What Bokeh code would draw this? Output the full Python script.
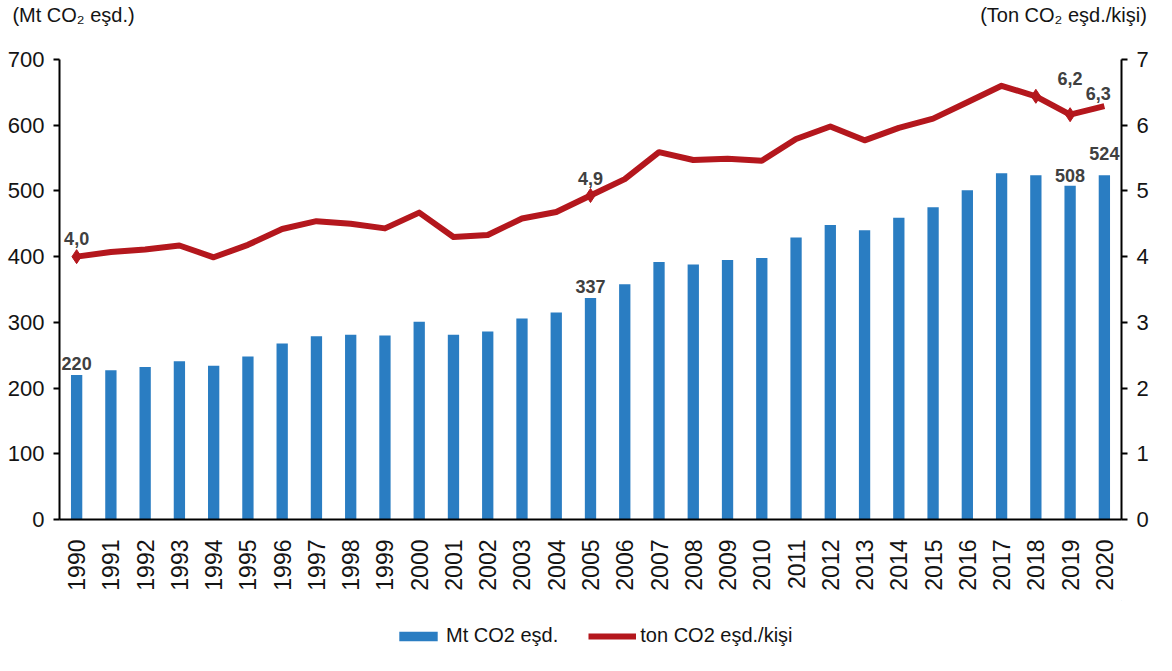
from bokeh.plotting import figure
from bokeh.layouts import column
from bokeh.models import (FactorRange, Range1d, LinearAxis, Legend, LegendItem,
                          Label, ColumnDataSource, FixedTicker)
from bokeh.embed import file_html
from bokeh.resources import INLINE

years = [str(y) for y in range(1990, 2021)]
emissions_mt = [220, 227, 232, 241, 234, 248, 268, 279, 281, 280, 301, 281, 286, 306,
                315, 337, 358, 392, 388, 395, 398, 429, 448, 440, 459, 475, 501, 527,
                524, 508, 524]
per_capita_t = [4.00, 4.07, 4.11, 4.17, 3.99, 4.18, 4.42, 4.54, 4.50, 4.43, 4.67, 4.30,
                4.33, 4.58, 4.68, 4.93, 5.18, 5.59, 5.47, 5.49, 5.46, 5.79, 5.98, 5.77,
                5.96, 6.10, 6.35, 6.60, 6.44, 6.16, 6.29]
bar_label_years = ["1990", "2005", "2019", "2020"]
bar_label_texts = ["220", "337", "508", "524"]
line_label_years = ["1990", "2005", "2019", "2020"]
line_label_texts = ["4,0", "4,9", "6,2", "6,3"]
marker_years = ["1990", "2005", "2018", "2019"]
left_ticks = [0, 100, 200, 300, 400, 500, 600, 700]
right_ticks = [0, 1, 2, 3, 4, 5, 6, 7]
left_unit = "(Mt CO\u2082 e\u015fd.)"
right_unit = "(Ton CO\u2082 e\u015fd./ki\u015fi)"
bar_name = "Mt CO2 e\u015fd."
line_name = "ton CO2 e\u015fd./ki\u015fi"

FONT = "Liberation Sans"
BLUE = "#2A7DC2"
RED = "#B4171D"
LABEL_C = "#404040"
TXT = "#141414"

W = 1156
HEAD_H, MAIN_H, FOOT_H = 44, 556, 55
BL, BR, BT, BB = 59, 35, 15, 81
FW = W - BL - BR

# ---------------- header: unit captions as labels of a bare top axis ----------------
head = figure(width=W, height=HEAD_H, x_range=Range1d(0, FW), y_range=Range1d(0, 1),
              x_axis_location="above", y_axis_type=None, output_backend="svg",
              toolbar_location=None, min_border_left=BL, min_border_right=BR,
              min_border_top=4, min_border_bottom=0, outline_line_color=None)
head.xgrid.visible = False
hx = head.xaxis[0]
hx.ticker = FixedTicker(ticks=[14, 1004])
hx.major_label_overrides = {14: left_unit, 1004: right_unit}
hx.axis_line_color = None
hx.major_tick_line_color = None
hx.minor_tick_line_color = None
hx.major_tick_out = 0
hx.major_tick_in = 0
hx.major_label_standoff = 0
hx.major_label_text_font = FONT
hx.major_label_text_font_size = "20px"
hx.major_label_text_color = TXT

# ---------------- main chart ----------------
p = figure(x_range=FactorRange(factors=years, range_padding=0),
           y_range=Range1d(0, 700), width=W, height=MAIN_H,
           output_backend="svg", toolbar_location=None,
           min_border_left=BL, min_border_right=BR, min_border_top=BT,
           min_border_bottom=BB, outline_line_color=None)
p.extra_y_ranges = {"right": Range1d(0, 7)}

src = ColumnDataSource(dict(year=years, mt=emissions_mt, pc=per_capita_t))
p.vbar(x="year", top="mt", width=0.33, source=src, fill_color=BLUE, line_color=None)
p.line(x="year", y="pc", source=src, y_range_name="right",
       line_color=RED, line_width=6, line_join="round")
msrc = ColumnDataSource(dict(year=marker_years,
                             pc=[per_capita_t[years.index(y)] for y in marker_years]))
p.scatter(x="year", y="pc", source=msrc, y_range_name="right", marker="diamond",
          size=14, fill_color=RED, line_color=RED)

bar_offsets = {"1990": 5, "2005": 5, "2019": 4, "2020": 15}
for yr, t in zip(bar_label_years, bar_label_texts):
    v = emissions_mt[years.index(yr)]
    p.add_layout(Label(x=years.index(yr) + 0.5, y=v, text=t, text_align="center",
                       text_baseline="bottom", y_offset=bar_offsets[yr],
                       text_font=FONT, text_font_style="bold",
                       text_font_size="18px", text_color=LABEL_C))
line_offsets = {"1990": 12, "2005": 11, "2019": 30, "2020": 6}
line_xoff = {"1990": 0, "2005": 0, "2019": 0, "2020": -6}
for yr, t in zip(line_label_years, line_label_texts):
    v = per_capita_t[years.index(yr)]
    p.add_layout(Label(x=years.index(yr) + 0.5, y=v, y_range_name="right", text=t,
                       text_align="center", text_baseline="bottom",
                       y_offset=line_offsets[yr], x_offset=line_xoff[yr],
                       text_font=FONT, text_font_style="bold",
                       text_font_size="18px", text_color=LABEL_C))

p.xgrid.visible = False
p.ygrid.visible = False
p.yaxis[0].ticker = FixedTicker(ticks=left_ticks)
ax_r = LinearAxis(y_range_name="right", ticker=FixedTicker(ticks=right_ticks))
p.add_layout(ax_r, "right")
for ax in [p.yaxis[0], ax_r]:
    ax.axis_line_width = 2
    ax.axis_line_color = "black"
    ax.major_tick_line_width = 2
    ax.major_tick_line_color = "black"
    ax.major_tick_out = 6
    ax.major_tick_in = 0
    ax.minor_tick_line_color = None
    ax.major_label_text_font = FONT
    ax.major_label_text_font_size = "22px"
    ax.major_label_text_color = TXT
    ax.major_label_standoff = 9

xa = p.xaxis[0]
xa.axis_line_width = 2
xa.axis_line_color = "black"
xa.major_tick_line_color = None
xa.minor_tick_line_color = None
xa.major_label_orientation = 1.5708
xa.major_label_text_font = FONT
xa.major_label_text_font_size = "23px"
xa.major_label_text_color = TXT
xa.major_label_standoff = 14

# ---------------- footer with the legend ----------------
foot = figure(width=W, height=FOOT_H, x_range=Range1d(0, 1), y_range=Range1d(0, 1),
              x_axis_type=None, y_axis_type=None, output_backend="svg",
              toolbar_location=None, min_border=0, outline_line_color=None)
# legend proxies kept outside the visible range of the footer
lb = foot.vbar(x=[5], top=[5], bottom=[4], width=0.3, fill_color=BLUE, line_color=None)
ll = foot.line(x=[5, 6], y=[5, 5], line_color=RED, line_width=6)
legend = Legend(items=[LegendItem(label=bar_name, renderers=[lb]),
                       LegendItem(label=line_name, renderers=[ll])],
                orientation="horizontal", location=(335, 8),
                label_text_font=FONT, label_text_font_size="20px",
                label_text_color=TXT, glyph_width=48, glyph_height=12,
                label_height=20, spacing=30, label_standoff=4,
                border_line_color=None, background_fill_alpha=0,
                padding=0, margin=0)
foot.add_layout(legend)

layout = column(head, p, foot, spacing=0)
open("out.html", "w").write(file_html(layout, INLINE))
